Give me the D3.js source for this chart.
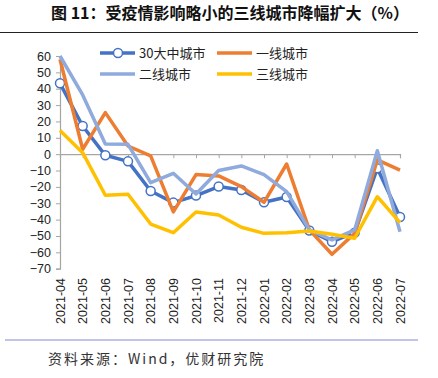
<!DOCTYPE html>
<html><head><meta charset="utf-8">
<script src="https://cdn.jsdelivr.net/npm/d3@7"></script>
<style>body{margin:0;background:#fff}svg{display:block}</style>
</head><body>
<script>
const categories = ["2021-04","2021-05","2021-06","2021-07","2021-08","2021-09","2021-10","2021-11","2021-12","2022-01","2022-02","2022-03","2022-04","2022-05","2022-06","2022-07"];
const big30 = [43.3,17.2,-0.7,-4.4,-22.5,-29.6,-25.3,-19.8,-21.9,-29.4,-26.2,-46.7,-53.5,-48,-8.6,-38.4];
const tier1 = [58,3,25.4,5,-1,-35.3,-12.5,-13.3,-19.8,-29.4,-6,-46.3,-61.2,-48.4,-3.5,-9.7];
const tier2 = [60,36.2,6.2,6,-17.4,-11.7,-24.3,-10,-7.2,-12.5,-22.9,-46.3,-52.4,-46.3,2.1,-47.4];
const tier3 = [14.4,0.9,-25.1,-24.5,-42.7,-48,-35.3,-37.2,-44.7,-48.4,-48,-47,-49,-51.4,-26,-41.9];
const yTicks = [60,50,40,30,20,10,0,-10,-20,-30,-40,-50,-60,-70];
const seriesNames = ["30大中城市","一线城市","二线城市","三线城市"];
const title = "图 11：受疫情影响略小的三线城市降幅扩大（%）";
const source = "资料来源：Wind，优财研究院";

const W=438,H=378;
const svg=d3.select("body").append("svg").attr("width",W).attr("height",H);
const font="'Noto Sans CJK SC','Noto Sans',sans-serif";
const numFont="'Liberation Sans','Noto Sans',sans-serif";

svg.append("text").attr("x",230).attr("y",19).attr("text-anchor","middle")
  .attr("font-family",font).attr("font-weight","bold").attr("font-size",16).attr("fill","#111").text(title);
svg.append("line").attr("x1",0).attr("x2",418).attr("y1",32.5).attr("y2",32.5).attr("stroke","#222").attr("stroke-width",1);

const x=d3.scalePoint().domain(categories).range([60,400]);
const y=d3.scaleLinear().domain([-70,60]).range([268.7,56]);

// y axis
const ya=svg.append("g").attr("transform","translate(60,0)")
  .call(d3.axisLeft(y).tickValues(yTicks).tickSize(4).tickPadding(5));
ya.select(".domain").attr("stroke","#a6a6a6").attr("stroke-width",1.2);
ya.selectAll(".tick line").attr("stroke","#a6a6a6");
ya.selectAll("text").attr("font-family",numFont).attr("font-size",12.5).attr("fill","#222");

// x axis at zero
const xa=svg.append("g").attr("transform",`translate(0,${y(0)})`)
  .call(d3.axisBottom(x).tickSize(4).tickFormat(""));
xa.select(".domain").attr("stroke","#a6a6a6").attr("stroke-width",1.2);
xa.selectAll(".tick line").attr("stroke","#a6a6a6");

// x labels
svg.append("g").selectAll("text").data(categories).join("text")
  .attr("transform",d=>`translate(${x(d)+4.5},278) rotate(-90)`)
  .attr("text-anchor","end").attr("font-family",numFont).attr("font-size",12.5).attr("fill","#222").text(d=>d);

const data=[
 {name:seriesNames[0],vals:big30,color:"#4472C4",marker:true},
 {name:seriesNames[1],vals:tier1,color:"#ED7D31"},
 {name:seriesNames[2],vals:tier2,color:"#8FAADC"},
 {name:seriesNames[3],vals:tier3,color:"#FFC000"}
];
const line=d3.line().x((d,i)=>x(categories[i])).y(d=>y(d));
data.forEach(s=>{
  svg.append("path").attr("d",line(s.vals)).attr("fill","none").attr("stroke",s.color).attr("stroke-width",3.5).attr("stroke-linejoin","round");
  if(s.marker){
    svg.append("g").selectAll("circle").data(s.vals).join("circle")
      .attr("cx",(d,i)=>x(categories[i])).attr("cy",d=>y(d)).attr("r",4.5)
      .attr("fill","#fff").attr("stroke",s.color).attr("stroke-width",1.5);
  }
});

// legend
const leg=[{x:100,y:53},{x:217,y:53},{x:100,y:74},{x:217,y:74}];
data.forEach((s,i)=>{
  const g=svg.append("g").attr("transform",`translate(${leg[i].x},${leg[i].y})`);
  g.append("line").attr("x1",0).attr("x2",35).attr("stroke",s.color).attr("stroke-width",3.5);
  if(s.marker) g.append("circle").attr("cx",18).attr("r",4.5).attr("fill","#fff").attr("stroke",s.color).attr("stroke-width",1.5);
  g.append("text").attr("x",39).attr("y",4.5).attr("font-family",font).attr("font-size",13).attr("fill","#222").text(s.name);
});

svg.append("line").attr("x1",5).attr("x2",418).attr("y1",340).attr("y2",340).attr("stroke","#8088cc").attr("stroke-width",1);
svg.append("text").attr("x",48).attr("y",364).attr("font-family",font).attr("font-size",14).attr("letter-spacing",2).attr("fill","#333").text(source);
</script>
</body></html>
